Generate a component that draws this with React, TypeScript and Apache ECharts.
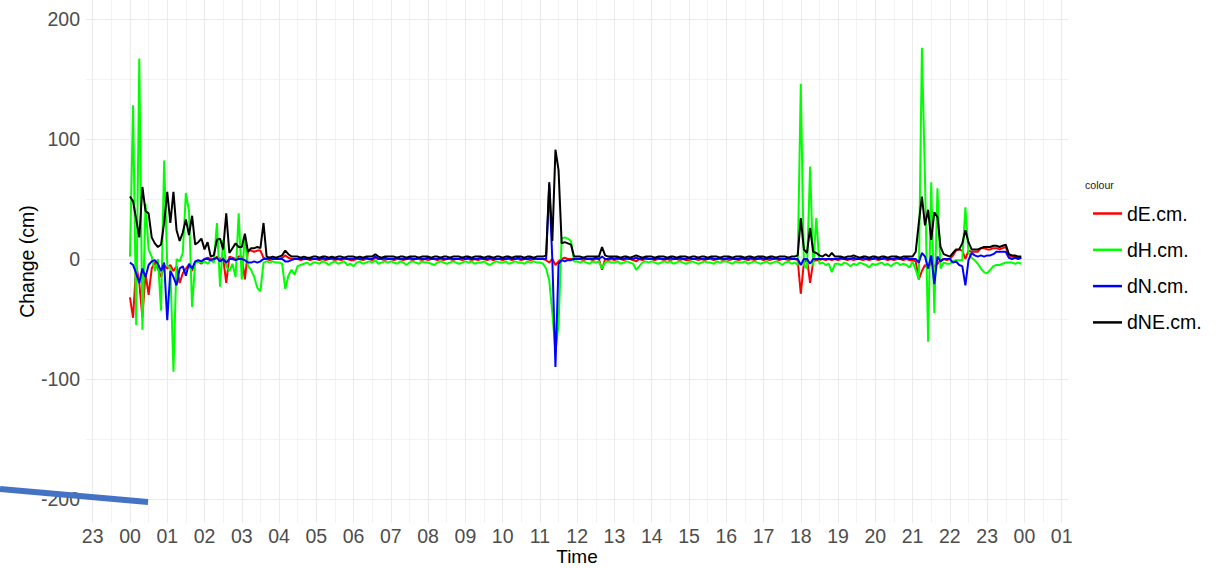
import React, { useEffect, useRef } from "react";
import * as echarts from "echarts";

// Position change over one day, sampled every 5 minutes (00:00 .. 23:55).
// One row per hour, twelve samples per row.
const SAMPLE_STEP_HOURS = 5 / 60;

const dE = [
  -32, -49, -5, -20, -49, -12, -30, -8, -3, -8, -15, -5,
  -8, -5, -10, -6, -20, -12, -8, -5, -10, -3, -2, -4,
  0, 1, 0, -1, 2, 0, 1, -20, 2, 1, 0, 2,
  2, -17, 7, 7, 6, 7, 7, 1, 0, -1, 0, 0,
  0, 1, 3, 1, 0, 0, 0, -1, 0, 0, -1, 0,
  0, -1, 0, -1, 0, 0, -1, 0, -1, 0, 0, -1,
  -1, 0, 0, -1, 0, 0, -1, 1, 0, 0, -1, 0,
  0, -1, 0, 0, -1, 0, 0, -1, 0, 0, -1, 0,
  -1, 0, 0, -1, 0, -1, 0, 0, -1, 0, 0, -1,
  0, 0, -1, 0, -1, 0, 0, -1, 0, -1, 0, 0,
  -1, 0, 0, -1, 0, 0, -1, 0, 0, -1, 0, 0,
  0, 0, -1, -3, 0, -5, -2, 0, 1, 0, 0, 0,
  0, 0, -1, 0, 0, -1, 0, 0, -9, 0, -1, 0,
  -1, 0, 0, -1, 0, 0, -1, -2, 0, -1, 0, 0,
  0, -1, 0, 0, -1, 0, -1, 0, 0, -1, 0, -1,
  -1, 0, 0, -1, 0, -1, 0, 0, -1, 0, 0, -1,
  0, -1, 0, 0, -1, 0, 0, -1, 0, -1, 0, 0,
  -1, 0, -1, 0, 0, -1, 0, 0, -1, 0, 0, -1,
  -29, -3, 0, -20, -2, -1, -1, 0, -1, 0, -1, 0,
  -1, 0, 0, -1, 0, -1, 0, 0, -1, 0, -1, 0,
  0, -1, 0, 0, -1, 0, -1, 0, 0, -1, 0, -1,
  -1, -2, -17, -10, -5, -8, -3, -6, -4, -1, 0, -1,
  0, 3, 7, 8, 7, 0, 7, 6, 6, 6, 9, 9,
  8, 8, 9, 9, 8, 9, 10, 3, 2, 2, 1, 1,
];

const dH = [
  2, 128, -55, 167, -59, 46, 8, 2, -10, 0, -43, 82,
  -5, -8, -94, 0, -2, 5, 55, 40, -40, -3, -2, -3,
  -2, -4, -1, -3, 30, -23, 16, -6, -10, -4, -15, 38,
  -17, 19, -6, -9, -15, -24, -27, -3, -2, -3, -2, -3,
  -3, -4, -25, -14, -9, -13, -6, -5, -4, -3, -5, -3,
  -3, -4, -2, -3, -5, -3, -2, -4, -3, -2, -5, -4,
  -6, -3, -2, -4, -3, -2, -3, -1, -4, -3, -2, -3,
  -2, -3, -4, -2, -3, -5, -3, -2, -3, -4, -2, -3,
  -3, -4, -5, -3, -2, -3, -4, -3, -2, -3, -4, -3,
  -2, -3, -2, -4, -3, -3, -2, -4, -5, -3, -2, -3,
  -3, -2, -4, -3, -2, -3, -3, -4, -2, -3, -2, -3,
  -3, -4, -8, -18, -45, -77, -55, 17, 18, 17, 15, -2,
  -2, -3, -2, -3, -4, -2, -3, -2, -8, -3, -2, -3,
  -3, -2, -4, -3, -2, -3, -4, -9, -6, -3, -2, -3,
  -2, -3, -4, -3, -2, -3, -2, -4, -3, -2, -3, -4,
  -3, -2, -3, -4, -3, -2, -3, -3, -4, -2, -3, -2,
  -2, -3, -4, -2, -3, -3, -2, -4, -3, -2, -3, -4,
  -3, -2, -4, -3, -2, -3, -5, -3, -2, -4, -3, -5,
  146, -5, -8, 77, -6, 34, -4, -3, -5, -4, -11, -4,
  -4, -5, -3, -4, -6, -4, -5, -3, -4, -5, -7, -4,
  -5, -4, -3, -5, -4, -6, -4, -3, -5, -4, -5, -7,
  -2, -9, -17, 176, 66, -69, 64, -45, 59, -8, -3, -4,
  -4, -2, -1, -1, -1, 43, 5, 1, -1, -4, -8, -11,
  -12, -9, -6, -5, -5, -4, -3, -3, -3, -4, -3, -4,
];

const dN = [
  -3, -5, -12, -20, -8, -15, -5, -2, -1, -4, -10, -3,
  -51, -10, -15, -22, -8, -6, -14, -4, -8, -2, -1, -2,
  0, 0, -1, 0, 1, -2, 0, -3, 0, 0, -1, 0,
  0, -1, -3, -3, -2, -3, -2, 0, 0, 1, 0, 0,
  0, 0, -2, -2, -1, 0, 0, 0, 0, 0, 0, 0,
  0, 0, 1, 0, 0, 1, 0, 0, 0, 1, 0, 0,
  0, 1, 0, 0, 1, 0, 0, 2, 0, 0, 1, 0,
  0, 0, 1, 0, 0, 0, 1, 0, 0, 1, 0, 0,
  1, 0, 0, 0, 1, 0, 0, 1, 0, 0, 0, 1,
  0, 1, 0, 0, 0, 1, 0, 0, 1, 0, 0, 0,
  0, 0, 1, 0, 0, 1, 0, 0, 0, 1, 0, 0,
  0, 0, 0, 62, -1, -90, -4, -1, -2, -1, -1, 0,
  0, 0, 1, 0, 0, 0, 1, 0, 2, 0, 0, 1,
  0, 1, 0, 0, 1, 0, 0, 1, 0, 0, 1, 0,
  0, 0, 1, 0, 0, 0, 1, 0, 0, 1, 0, 0,
  1, 0, 0, 1, 0, 0, 0, 1, 0, 0, 1, 0,
  0, 1, 0, 0, 0, 1, 0, 0, 1, 0, 0, 1,
  0, 0, 1, 0, 1, 0, 0, 0, 1, 0, 0, 0,
  -5, 0, 0, -4, 0, 0, 0, 0, 0, 0, 0, 0,
  0, 1, 0, 0, 0, 1, 0, 0, 1, 0, 0, 0,
  1, 0, 0, 1, 0, 0, 0, 1, 0, 0, 1, 0,
  0, 0, -3, 5, 2, -8, 3, -21, 2, -2, 0, 0,
  0, -3, -2, -5, -6, -22, -1, 5, 3, 2, 3, 2,
  3, 3, 4, 6, 6, 6, 6, 1, 0, 1, 0, 1,
];

const dNE = [
  52, 48, 33, 18, 60, 40, 38, 18, 13, 10, 12, 30,
  56, 30, 56, 24, 15, 22, 33, 20, 36, 12, 14, 17,
  8, 14, 2, 3, 16, 17, 8, 38, 5, 9, 13, 10,
  10, 21, 6, 9, 9, 10, 9, 30, 2, 1, 2, 1,
  2, 3, 7, 4, 2, 2, 2, 1, 2, 1, 1, 2,
  2, 1, 2, 2, 1, 2, 1, 2, 2, 1, 2, 2,
  2, 1, 2, 1, 2, 2, 2, 4, 2, 1, 2, 2,
  2, 2, 1, 2, 2, 1, 2, 2, 2, 1, 2, 2,
  2, 1, 2, 2, 1, 2, 2, 1, 2, 2, 2, 1,
  2, 2, 1, 2, 2, 2, 1, 2, 2, 1, 2, 2,
  1, 2, 2, 1, 2, 2, 2, 1, 2, 2, 1, 2,
  2, 2, 3, 64, 15, 91, 74, 13, 14, 13, 12, 2,
  2, 2, 1, 2, 2, 2, 2, 2, 10, 3, 2, 2,
  2, 2, 1, 2, 2, 1, 2, 3, 2, 1, 2, 2,
  2, 1, 2, 2, 2, 1, 2, 2, 1, 2, 2, 2,
  1, 2, 2, 1, 2, 2, 1, 2, 2, 2, 1, 2,
  2, 2, 1, 2, 2, 2, 1, 2, 2, 1, 2, 2,
  2, 1, 2, 2, 1, 2, 2, 2, 1, 2, 2, 3,
  34, 8, 5, 26, 6, 5, 3, 2, 4, 2, 5, 2,
  2, 2, 1, 2, 2, 3, 2, 1, 2, 2, 1, 2,
  2, 1, 2, 2, 1, 2, 2, 2, 1, 2, 2, 2,
  2, 6, 30, 52, 28, 41, 16, 39, 35, 10, 4, 3,
  2, 5, 8, 8, 13, 24, 14, 8, 8, 8, 9, 10,
  10, 10, 11, 11, 10, 11, 12, 4, 3, 3, 2, 2,
];

const SERIES_NAMES = ["dE.cm.", "dH.cm.", "dN.cm.", "dNE.cm."];
const SERIES_VALUES = [dE, dH, dN, dNE];
const SERIES_COLORS = ["#FF0000", "#00FF00", "#0000FF", "#000000"];

// Hour ticks (hours relative to midnight) and half-hour minor grid.
const X_MAJOR = [-1, 0, 1, 2, 3, 4, 5, 6, 7, 8, 9, 10, 11, 12, 13, 14, 15, 16, 17, 18, 19, 20, 21, 22, 23, 24, 25];
const X_MINOR = [-0.5, 0.5, 1.5, 2.5, 3.5, 4.5, 5.5, 6.5, 7.5, 8.5, 9.5, 10.5, 11.5, 12.5, 13.5, 14.5, 15.5, 16.5, 17.5, 18.5, 19.5, 20.5, 21.5, 22.5, 23.5, 24.5];
const Y_MAJOR = [-200, -100, 0, 100, 200];
const Y_MINOR = [-150, -50, 50, 150];

const X_MIN = -1.18;
const X_MAX = 25.17;
const Y_MIN = -220;
const Y_MAX = 215.8;

const FONT = "'Liberation Sans', Arial, Helvetica, sans-serif";
const GRID_COLOR = "#ebebeb";

const hourLabel = (v: number) => {
  const h = ((Math.round(v) % 24) + 24) % 24;
  return String(h).padStart(2, "0");
};

export default function App() {
  const ref = useRef<HTMLDivElement>(null);

  useEffect(() => {
    if (!ref.current) return;
    const chart = echarts.init(ref.current, undefined, { renderer: "svg" });

    const times = dE.map((_, i) => i * SAMPLE_STEP_HOURS);

    const series = SERIES_NAMES.map((name, k) => ({
      name,
      type: "line",
      xAxisIndex: 0,
      yAxisIndex: 0,
      color: SERIES_COLORS[k],
      showSymbol: false,
      symbol: "none",
      lineStyle: { width: 2, color: SERIES_COLORS[k] },
      emphasis: { disabled: true },
      data: times.map((t, i) => [t, SERIES_VALUES[k][i]]),
    }));

    chart.setOption({
      animation: false,
      backgroundColor: "#ffffff",
      textStyle: { fontFamily: FONT },
      grid: {
        left: 86,
        right: 162,
        top: 0,
        bottom: 45,
        containLabel: false,
        outerBoundsMode: "none",
      },
      xAxis: [
        {
          type: "value",
          min: X_MIN,
          max: X_MAX,
          axisLine: { show: false },
          axisTick: { show: false, customValues: X_MAJOR },
          axisLabel: {
            customValues: X_MAJOR,
            formatter: hourLabel,
            color: "#4d4d4d",
            fontSize: 19.5,
            fontFamily: FONT,
            margin: 3,
          },
          splitLine: { show: true, lineStyle: { color: GRID_COLOR, width: 1.1 } },
          name: "Time",
          nameLocation: "middle",
          nameGap: 24,
          nameMoveOverlap: false,
          nameTextStyle: { color: "#000000", fontSize: 19, fontFamily: FONT },
        },
        {
          type: "value",
          gridIndex: 0,
          position: "bottom",
          min: X_MIN,
          max: X_MAX,
          axisLine: { show: false },
          axisTick: { show: false, customValues: X_MINOR },
          axisLabel: { show: false },
          splitLine: { show: true, lineStyle: { color: GRID_COLOR, width: 0.6 } },
        },
      ],
      yAxis: [
        {
          type: "value",
          min: Y_MIN,
          max: Y_MAX,
          axisLine: { show: false },
          axisTick: { show: false, customValues: Y_MAJOR },
          axisLabel: {
            customValues: Y_MAJOR,
            color: "#4d4d4d",
            fontSize: 19.5,
            fontFamily: FONT,
            margin: 6,
          },
          splitLine: { show: true, lineStyle: { color: GRID_COLOR, width: 1.1 } },
          name: "Change (cm)",
          nameLocation: "middle",
          nameRotate: 90,
          nameGap: 49,
          nameMoveOverlap: false,
          nameTextStyle: { color: "#000000", fontSize: 19.5, fontFamily: FONT },
        },
        {
          type: "value",
          gridIndex: 0,
          position: "left",
          min: Y_MIN,
          max: Y_MAX,
          axisLine: { show: false },
          axisTick: { show: false, customValues: Y_MINOR },
          axisLabel: { show: false },
          splitLine: { show: true, lineStyle: { color: GRID_COLOR, width: 0.6 } },
        },
      ],
      legend: {
        orient: "vertical",
        left: 1088,
        top: 198.5,
        icon: "rect",
        itemWidth: 29,
        itemHeight: 2.5,
        itemGap: 16.3,
        selectedMode: false,
        data: SERIES_NAMES,
        textStyle: {
          color: "#000000",
          fontSize: 19.5,
          fontFamily: FONT,
          lineHeight: 20,
          padding: [0, 0, 0, 0],
        },
      },
      graphic: [
        {
          type: "text",
          left: 1085,
          top: 179,
          style: { text: "colour", fill: "#1a1a1a", fontSize: 10.6, fontFamily: FONT },
        },
        {
          type: "line",
          z: 100,
          shape: { x1: 0, y1: 489, x2: 148, y2: 502 },
          style: { stroke: "#4472C4", lineWidth: 6 },
        },
      ],
      series,
    });

    return () => chart.dispose();
  }, []);

  return (
    <div
      ref={ref}
      style={{ position: "fixed", left: 0, top: 0, width: 1230, height: 568 }}
    />
  );
}
